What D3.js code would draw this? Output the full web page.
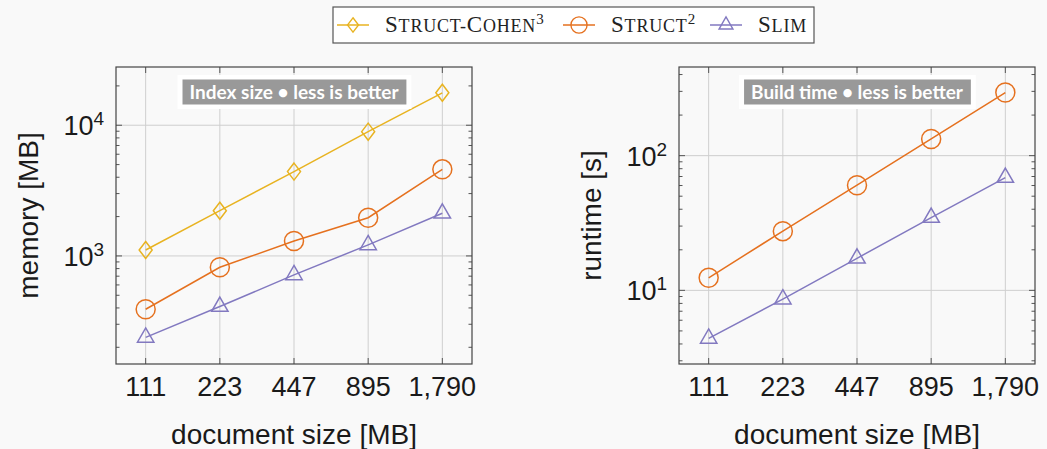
<!DOCTYPE html>
<html>
<head>
<meta charset="utf-8">
<script src="https://cdn.jsdelivr.net/npm/d3@7"></script>
<style>
  html, body { margin: 0; padding: 0; background: #f9f9f9; }
  svg { display: block; }
  .tick-label { font-family: "Liberation Sans", Arial, sans-serif; font-size: 27px; fill: #1a1a1a; }
  .axis-label { font-family: "Liberation Sans", Arial, sans-serif; font-size: 28px; fill: #1a1a1a; }
  .legend-text { font-family: "Liberation Serif", "DejaVu Serif", serif; font-size: 18px; letter-spacing: 0.8px; fill: #222; }
  .badge-text { font-family: Lato, "Open Sans", sans-serif; font-weight: bold; font-size: 19px; fill: #fff; }
</style>
</head>
<body>
<div id="chart"></div>
<script>
// categories (document size in MB)
const sizes = ['111', '223', '447', '895', '1,790'];

// index size [MB]
const memCohen = [1110, 2220, 4420, 8930, 17700];
const memStruct = [391, 819, 1300, 1960, 4600];
const memSlim = [238, 410, 716, 1215, 2120];

// build time [s]
const timeStruct = [12.4, 27.5, 60.3, 133, 294];
const timeSlim = [4.4, 8.6, 17.3, 34.7, 68.7];

const seriesNames = ['Struct-Cohen', 'Struct', 'Slim'];
const seriesSup = ['3', '2', ''];
const colors = {cohen: '#e8b321', struct: '#e5711f', slim: '#8279c0'};

const W = 1047, H = 449;
const svg = d3.select('#chart').append('svg').attr('width', W).attr('height', H);

function symbolPath(kind) {
  if (kind === 'diamond') return 'M0,-8.5L6.5,0L0,8.5L-6.5,0Z';
  if (kind === 'circle') return d3.arc()({innerRadius: 0, outerRadius: 9.5, startAngle: 0, endAngle: 2 * Math.PI});
  // triangle
  return 'M0,-9.5L8.2,4.75L-8.2,4.75Z';
}

function drawPanel(opts) {
  const {left, right, top, bottom, yDomain, decades, series, yLabel, yLabelX, badge} = opts;
  const g = svg.append('g');

  const x = d3.scalePoint().domain(sizes).range([left, right]).padding(0.4);
  const y = d3.scaleLog().domain(yDomain).range([bottom, top]);

  // grid
  g.append('g').selectAll('line').data(sizes).join('line')
    .attr('x1', d => x(d)).attr('x2', d => x(d))
    .attr('y1', top).attr('y2', bottom)
    .attr('stroke', '#cfcfcf').attr('stroke-width', 1);
  g.append('g').selectAll('line').data(decades).join('line')
    .attr('x1', left).attr('x2', right)
    .attr('y1', d => y(d)).attr('y2', d => y(d))
    .attr('stroke', '#cfcfcf').attr('stroke-width', 1);

  // minor ticks
  const minor = [];
  const lo = Math.floor(Math.log10(yDomain[0])), hi = Math.ceil(Math.log10(yDomain[1]));
  for (let e = lo; e <= hi; e++) {
    for (let m = 2; m <= 9; m++) {
      const v = m * Math.pow(10, e);
      if (v > yDomain[0] && v < yDomain[1]) minor.push(v);
    }
  }
  const tickG = g.append('g').attr('stroke', '#555').attr('stroke-width', 1);
  minor.forEach(v => {
    tickG.append('line').attr('x1', left).attr('x2', left + 3.5).attr('y1', y(v)).attr('y2', y(v));
    tickG.append('line').attr('x1', right).attr('x2', right - 3.5).attr('y1', y(v)).attr('y2', y(v));
  });
  decades.forEach(v => {
    tickG.append('line').attr('x1', left).attr('x2', left + 6).attr('y1', y(v)).attr('y2', y(v));
    tickG.append('line').attr('x1', right).attr('x2', right - 6).attr('y1', y(v)).attr('y2', y(v));
  });
  sizes.forEach(s => {
    tickG.append('line').attr('x1', x(s)).attr('x2', x(s)).attr('y1', bottom).attr('y2', bottom - 6);
    tickG.append('line').attr('x1', x(s)).attr('x2', x(s)).attr('y1', top).attr('y2', top + 6);
  });

  // frame
  g.append('rect').attr('x', left).attr('y', top)
    .attr('width', right - left).attr('height', bottom - top)
    .attr('fill', 'none').attr('stroke', '#444').attr('stroke-width', 1.2);

  // x tick labels
  g.append('g').selectAll('text').data(sizes).join('text')
    .attr('class', 'tick-label')
    .attr('x', d => x(d)).attr('y', bottom + 32)
    .attr('text-anchor', 'middle')
    .text(d => d);

  // y tick labels 10^n
  decades.forEach(v => {
    const e = Math.round(Math.log10(v));
    const t = g.append('text').attr('class', 'tick-label')
      .attr('x', left - 12).attr('y', y(v) + 10).attr('text-anchor', 'end');
    t.append('tspan').text('10');
    t.append('tspan').attr('dy', -10).style('font-size', '19px').text(e);
  });

  // axis labels
  g.append('text').attr('class', 'axis-label')
    .attr('x', (left + right) / 2).attr('y', bottom + 80)
    .attr('text-anchor', 'middle').text('document size [MB]');
  g.append('text').attr('class', 'axis-label')
    .attr('transform', `translate(${yLabelX},${(top + bottom) / 2}) rotate(-90)`)
    .attr('text-anchor', 'middle').attr('dy', '0.35em').text(yLabel);

  // series
  const line = d3.line().x((d, i) => x(sizes[i])).y(d => y(d));
  series.forEach(s => {
    g.append('path').datum(s.values)
      .attr('d', line).attr('fill', 'none')
      .attr('stroke', s.color).attr('stroke-width', 1.5);
    g.append('g').selectAll('path').data(s.values).join('path')
      .attr('transform', (d, i) => `translate(${x(sizes[i])},${y(d)})`)
      .attr('d', symbolPath(s.symbol))
      .attr('fill', 'none').attr('stroke', s.color).attr('stroke-width', 1.5);
  });

  // badge
  const bx = (left + right) / 2, by = 92;
  const bg = g.append('g');
  const outer = bg.append('rect').attr('fill', '#fff');
  const inner = bg.append('rect').attr('fill', '#999');
  const bt = bg.append('text').attr('class', 'badge-text')
    .attr('x', bx).attr('y', by).attr('dy', '0.35em').attr('text-anchor', 'middle').text(badge);
  const bb = bt.node().getBBox();
  inner.attr('x', bb.x - 7).attr('y', by - 12.5).attr('width', bb.width + 14).attr('height', 25);
  outer.attr('x', bb.x - 12).attr('y', by - 17).attr('width', bb.width + 24).attr('height', 34);
}

drawPanel({
  left: 116, right: 472, top: 67, bottom: 364,
  yDomain: [149, 27900], decades: [1000, 10000],
  yLabel: 'memory [MB]', yLabelX: 28,
  badge: 'Index size \u2022 less is better',
  series: [
    {values: memCohen, color: colors.cohen, symbol: 'diamond'},
    {values: memStruct, color: colors.struct, symbol: 'circle'},
    {values: memSlim, color: colors.slim, symbol: 'triangle'}
  ]
});

drawPanel({
  left: 679, right: 1035, top: 67, bottom: 364,
  yDomain: [2.84, 455], decades: [10, 100],
  yLabel: 'runtime [s]', yLabelX: 591,
  badge: 'Build time \u2022 less is better',
  series: [
    {values: timeStruct, color: colors.struct, symbol: 'circle'},
    {values: timeSlim, color: colors.slim, symbol: 'triangle'}
  ]
});

// legend
const legend = svg.append('g');
legend.append('rect').attr('x', 333).attr('y', 7).attr('width', 481).attr('height', 36)
  .attr('fill', '#fff').attr('stroke', '#555').attr('stroke-width', 1.2);
const legendItems = [
  {x: 337, color: colors.cohen, symbol: 'diamond'},
  {x: 563, color: colors.struct, symbol: 'circle'},
  {x: 710, color: colors.slim, symbol: 'triangle'}
];
legendItems.forEach((it, i) => {
  const cy = 25;
  legend.append('line').attr('x1', it.x).attr('x2', it.x + 32).attr('y1', cy).attr('y2', cy)
    .attr('stroke', it.color).attr('stroke-width', 1.5);
  legend.append('path').attr('transform', `translate(${it.x + 16},${cy}) scale(0.85)`)
    .attr('d', symbolPath(it.symbol)).attr('fill', 'none')
    .attr('stroke', it.color).attr('stroke-width', 1.6);
  const t = legend.append('text').attr('class', 'legend-text')
    .attr('x', it.x + 48).attr('y', cy + 7);
  // hand-made small caps: capitals full size, lowercase as smaller capitals
  for (const ch of seriesNames[i]) {
    const big = ch !== ch.toLowerCase();
    t.append('tspan').style('font-size', big ? '23px' : '18px').text(ch.toUpperCase());
  }
  if (seriesSup[i]) t.append('tspan').attr('dy', -8).style('font-size', '15px').text(seriesSup[i]);
});
</script>
</body>
</html>
